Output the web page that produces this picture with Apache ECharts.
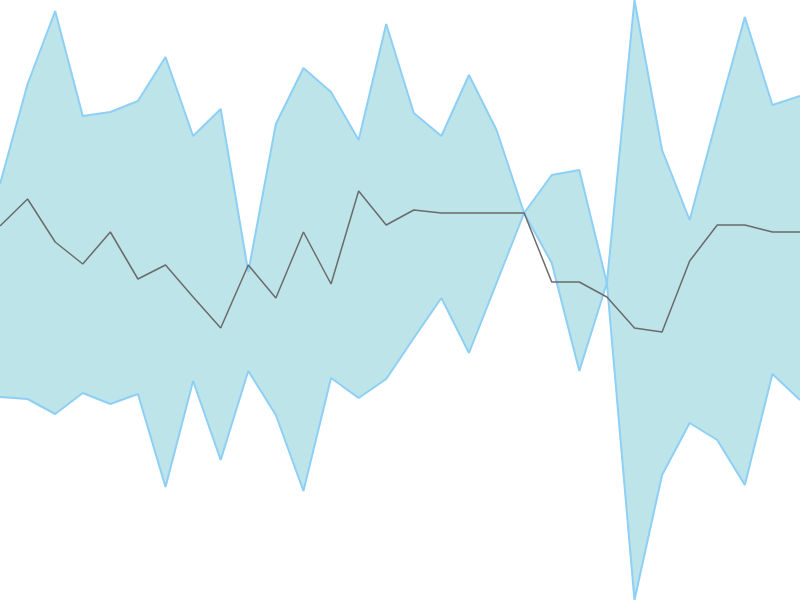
<!DOCTYPE html>
<html>
<head>
<meta charset="utf-8">
<script src="https://cdn.jsdelivr.net/npm/echarts@6/dist/echarts.min.js"></script>
<style>html,body{margin:0;padding:0;background:#fff}#main{width:800px;height:600px}</style>
</head>
<body>
<div id="main"></div>
<script>
var categories = [];
for (var i = 1; i <= 30; i++) categories.push('P' + i);

var upperValues = [416,516,589,484,488,499,543,464,491,328,476,532,508,460,576,487,464,525,470,387,425,430,317,600,450,380,483,583,495,504];
var middleValues = [374,401,358,336,368,321,335,303,272,335,302,368,316,409,375,390,387,387,387,387,318,318,303,272,268,339,375,375,368,368];
var lowerValues = [203,201,186,207,196,206,113,219,140,229,185,109,222,202,221,262,302,247,317,387,337,229,317,0,125,177,160,115,226,200];

var bandValues = upperValues.map(function (u, i) { return u - lowerValues[i]; });

var chart = echarts.init(document.getElementById('main'));
chart.setOption({
  animation: false,
  grid: { left: 0, right: 0, top: 0, bottom: 0 },
  xAxis: { type: 'category', data: categories, boundaryGap: false, show: false },
  yAxis: { type: 'value', min: 0, max: 600, show: false },
  series: [
    {
      name: 'L', type: 'line', stack: 'band', stackStrategy: 'all', data: lowerValues,
      symbol: 'none', z: 3,
      lineStyle: { color: '#8ecff5', width: 2 }
    },
    {
      name: 'U', type: 'line', stack: 'band', stackStrategy: 'all', data: bandValues,
      symbol: 'none', z: 2,
      lineStyle: { color: '#8ecff5', width: 2 },
      areaStyle: { color: '#bde4e9', opacity: 1 }
    },
    {
      name: 'M', type: 'line', data: middleValues, symbol: 'none', z: 4,
      lineStyle: { color: '#6b6b6b', width: 1.5 }
    }
  ]
});
</script>
</body>
</html>
